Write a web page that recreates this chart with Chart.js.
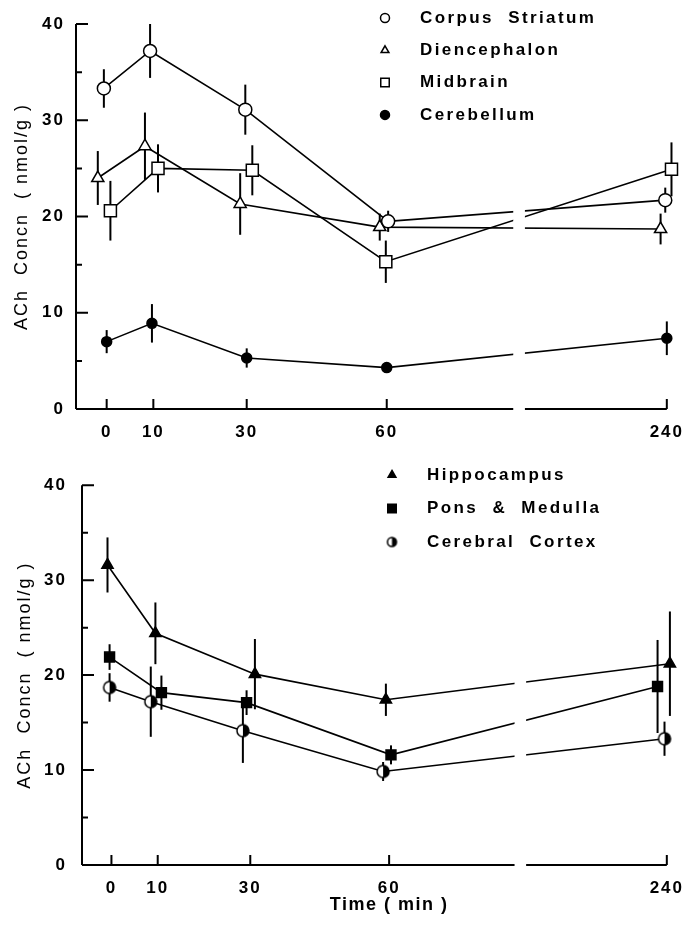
<!DOCTYPE html>
<html>
<head>
<meta charset="utf-8">
<script src="https://cdn.jsdelivr.net/npm/chart.js@4.4.1/dist/chart.umd.min.js"></script>
<style>
body { margin: 0; background: #fff; width: 697px; height: 926px; overflow: hidden; position: relative; }
canvas { position: absolute; left: 0; }
</style>
</head>
<body>
<canvas id="topChart" width="697" height="460" style="top:0"></canvas>
<canvas id="botChart" width="697" height="466" style="top:460px"></canvas>
<script>
// tick labels on the time axis (min); the axis is broken between 60 and 240
var timeTicks = [0, 10, 30, 60, 240];

// upper panel: times as plotted (points are slightly staggered), means and SEM
var striatumT = [-0.6, 9.3, 29.7, 60.9, 239];
var striatum = [33.3, 37.2, 31.1, 19.5, 21.7];
var striatumErr = [2.0, 2.8, 2.6, 1.1, 1.3];

var diencephT = [-1.9, 8.2, 28.6, 58.5, 236];
var dienceph = [24.0, 27.3, 21.3, 18.9, 18.7];
var diencephErr = [2.8, 3.5, 3.2, 1.4, 1.6];

var midbrainT = [0.8, 11, 31.2, 59.8, 243];
var midbrain = [20.6, 25.0, 24.8, 15.3, 24.9];
var midbrainErr = [3.1, 2.5, 2.6, 2.2, 2.8];

var cerebellumT = [0, 9.7, 30, 60, 240];
var cerebellum = [7.0, 8.9, 5.3, 4.3, 7.35];
var cerebellumErr = [1.2, 2.0, 1.0, 0, 1.75];

// lower panel
var hippoT = [-0.85, 9.5, 31, 59.3, 242];
var hippo = [31.6, 24.4, 20.1, 17.4, 21.2];
var hippoErr = [2.9, 3.25, 3.7, 1.7, 5.5];

var ponsT = [-0.4, 10.8, 29.2, 61.2, 234];
var pons = [21.9, 18.15, 17.1, 11.6, 18.8];
var ponsErr = [1.35, 1.8, 1.3, 1.0, 4.9];

var cortexT = [-0.4, 8.5, 28.4, 58.7, 238.5];
var cortex = [18.7, 17.2, 14.15, 9.85, 13.3];
var cortexErr = [1.5, 3.7, 3.4, 1.0, 1.8];

var FONT = "'Liberation Sans', Arial, sans-serif";

// 0-60 min is linear, 60-240 is squeezed after the break
function toAxis(t) {
  return t <= 60 ? t : 60 + (t - 60) / 3;
}

function halfCircle(r) {
  var c = document.createElement('canvas');
  var s = Math.ceil(r * 2 + 4);
  c.width = c.height = s;
  var g = c.getContext('2d'), m = s / 2;
  g.beginPath(); g.arc(m, m, r, 0, Math.PI * 2);
  g.fillStyle = '#fff'; g.fill();
  g.lineWidth = 1.5; g.strokeStyle = '#000'; g.stroke();
  g.beginPath(); g.arc(m, m, r, -Math.PI / 2, Math.PI / 2); g.closePath();
  g.fillStyle = '#000'; g.fill();
  return c;
}

function series(label, ts, vals, errs, style, radius, fill, legendStyle) {
  return {
    label: label,
    data: ts.map(function (t, i) { return { x: toAxis(t), y: vals[i] }; }),
    err: errs,
    borderColor: '#000',
    borderWidth: 1.6,
    pointStyle: style,
    pointRadius: radius,
    pointBackgroundColor: fill,
    pointBorderColor: '#000',
    pointBorderWidth: 1.5,
    legendStyle: legendStyle || style,
    fill: false,
    tension: 0,
    clip: false
  };
}

var spacing = {
  id: 'spacing',
  beforeUpdate: function (chart) { chart.ctx.letterSpacing = '2px'; },
  beforeDraw: function (chart) { chart.ctx.letterSpacing = '2px'; }
};

var axesAndBars = {
  id: 'axesAndBars',
  beforeDatasetsDraw: function (chart) {
    var ctx = chart.ctx, a = chart.chartArea;
    var xs = chart.scales.x, ys = chart.scales.y;
    ctx.save();
    ctx.strokeStyle = '#000';
    ctx.lineWidth = 2;
    ctx.beginPath();
    ctx.moveTo(a.left, a.top); ctx.lineTo(a.left, a.bottom);
    ctx.moveTo(a.left, a.bottom); ctx.lineTo(a.right, a.bottom);
    for (var v = 0; v <= 40; v += 5) {
      var py = ys.getPixelForValue(v);
      ctx.moveTo(a.left, py); ctx.lineTo(a.left + (v % 10 === 0 ? 12 : 6), py);
    }
    timeTicks.forEach(function (t) {
      var px = xs.getPixelForValue(toAxis(t));
      ctx.moveTo(px, a.bottom); ctx.lineTo(px, a.bottom - 10);
    });
    ctx.stroke();

    // error bars
    ctx.lineWidth = 2;
    chart.data.datasets.forEach(function (ds, i) {
      var meta = chart.getDatasetMeta(i);
      meta.data.forEach(function (pt, j) {
        var e = ds.err[j];
        if (!e) return;
        var y = ds.data[j].y;
        ctx.beginPath();
        ctx.moveTo(pt.x, ys.getPixelForValue(y + e));
        ctx.lineTo(pt.x, ys.getPixelForValue(y - e));
        ctx.stroke();
      });
    });
    ctx.restore();
  },
  afterDatasetsDraw: function (chart) {
    // axis break between 60 and 240
    var ctx = chart.ctx, a = chart.chartArea, xs = chart.scales.x;
    var x1 = xs.getPixelForValue(87.1), x2 = xs.getPixelForValue(89.6);
    ctx.save();
    ctx.fillStyle = '#fff';
    ctx.fillRect(x1, a.top, x2 - x1, a.bottom - a.top + 4);
    ctx.restore();
  },
  afterDraw: function (chart) {
    var o = chart.options.plugins.axesAndBars;
    var ctx = chart.ctx;
    ctx.save();
    ctx.letterSpacing = '2.4px';
    ctx.font = 'bold 17px ' + FONT;
    ctx.textBaseline = 'middle';
    chart.data.datasets.forEach(function (ds, i) {
      var y = o.legendY + i * o.legendGap;
      ctx.fillStyle = ds.pointBackgroundColor;
      ctx.strokeStyle = '#000';
      ctx.lineWidth = 1.5;
      Chart.helpers.drawPoint(ctx, {
        pointStyle: ds.legendStyle,
        radius: ds.pointStyle === 'rect' ? 6 : 4.5,
        borderWidth: 1.5,
        rotation: 0
      }, o.legendX, y);
      ctx.fillStyle = '#000';
      ctx.fillText(ds.label, o.legendX + 35, y);
    });
    // x title sits under the 60 min tick in the original
    if (o.xTitle) {
      ctx.font = 'bold 18px ' + FONT;
      ctx.letterSpacing = '1.5px';
      ctx.textAlign = 'center';
      ctx.fillText(o.xTitle, chart.scales.x.getPixelForValue(toAxis(60)), chart.height - 21);
    }
    ctx.restore();
  }
};

function makeChart(id, datasets, p) {
  return new Chart(document.getElementById(id), {
    type: 'line',
    data: { datasets: datasets },
    plugins: [spacing, axesAndBars],
    options: {
      responsive: false,
      animation: false,
      layout: { padding: { left: 0, right: p.right, top: p.top, bottom: 0 } },
      plugins: {
        legend: { display: false },
        tooltip: { enabled: false },
        axesAndBars: { legendX: p.legendX, legendY: p.legendY, legendGap: p.legendGap, xTitle: p.xTitle }
      },
      scales: {
        x: {
          type: 'linear',
          min: p.xMin,
          max: 120,
          grid: { display: false, drawTicks: false },
          border: { display: false },
          afterBuildTicks: function (s) {
            s.ticks = timeTicks.map(function (t) { return { value: toAxis(t) }; });
          },
          afterFit: function (s) { s.height = p.xHeight; },
          ticks: {
            autoSkip: false,
            maxRotation: 0,
            padding: 13,
            color: '#000',
            font: { family: FONT, size: 17, weight: 'bold' },
            callback: function (v) {
              var i = timeTicks.map(toAxis).indexOf(v);
              return i < 0 ? '' : String(timeTicks[i]);
            }
          }
        },
        y: {
          min: 0,
          max: 40,
          grid: { display: false, drawTicks: false },
          border: { display: false },
          afterFit: function (s) { s.width = p.yWidth; },
          ticks: {
            stepSize: 10,
            padding: p.yPad,
            color: '#000',
            font: { family: FONT, size: 17, weight: 'bold' }
          },
          title: {
            display: true,
            text: 'ACh  Concn  ( nmol/g )',
            color: '#000',
            font: { family: FONT, size: 18 },
            padding: { top: p.yTitlePad, bottom: 0 }
          }
        }
      }
    }
  });
}

var cortexMark = halfCircle(6);
var cortexLegend = halfCircle(4.5);

makeChart('topChart', [
  series('Corpus  Striatum', striatumT, striatum, striatumErr, 'circle', 6.5, '#fff'),
  series('Diencephalon', diencephT, dienceph, diencephErr, 'triangle', 7, '#fff'),
  series('Midbrain', midbrainT, midbrain, midbrainErr, 'rect', 8.5, '#fff'),
  series('Cerebellum', cerebellumT, cerebellum, cerebellumErr, 'circle', 5, '#000')
], { right: 24, top: 24, xMin: -6.57, xHeight: 51, yWidth: 76, yPad: 11, yTitlePad: 11,
     xTitle: '', legendX: 385, legendY: 18, legendGap: 32.3 });

makeChart('botChart', [
  series('Hippocampus', hippoT, hippo, hippoErr, 'triangle', 6.5, '#000'),
  series('Pons  &  Medulla', ponsT, pons, ponsErr, 'rect', 7, '#000'),
  series('Cerebral  Cortex', cortexT, cortex, cortexErr, cortexMark, 6, '#fff', cortexLegend)
], { right: 19, top: 15, xMin: -6.36, xHeight: 61, yWidth: 82, yPad: 15, yTitlePad: 14,
     xTitle: 'Time ( min )', legendX: 392, legendY: 15, legendGap: 33.5 });
</script>
</body>
</html>
